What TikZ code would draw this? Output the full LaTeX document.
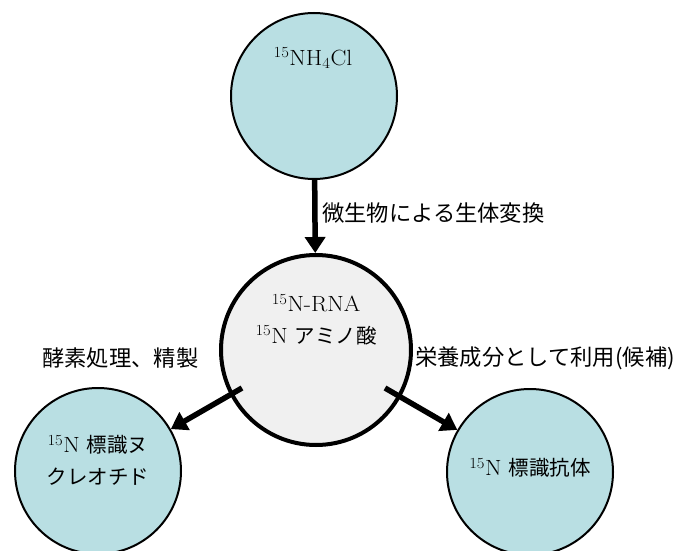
\documentclass[tikz,border=0pt]{standalone}
\usepackage{fontspec}
\newfontfamily\jp{Noto Sans CJK JP}
\newfontfamily\lat{Latin Modern Roman}[FakeStretch=1.08]
\usetikzlibrary{arrows.meta}
\definecolor{cblue}{HTML}{B9DFE3}
\definecolor{cgray}{HTML}{F0F0F0}
\begin{document}
\begin{tikzpicture}[x=1pt,y=-1pt,
  bluecirc/.style={circle, draw=black, line width=2pt, fill=cblue, minimum size=166pt, inner sep=0pt},
  midcirc/.style={circle, draw=black, line width=4pt, fill=cgray, minimum size=190pt, inner sep=0pt},
  arr/.style={line width=5.5pt, -{Triangle[length=16pt,width=20pt]}},
  txt/.style={font=\fontsize{22}{26}\selectfont\lat, inner sep=0pt},
  cj/.style={font=\fontsize{20.5}{24}\selectfont\jp, inner sep=0pt},
  lbl/.style={font=\fontsize{22.3}{26}\selectfont\jp, anchor=west, inner sep=0pt}]
\useasboundingbox (0,0) rectangle (683,551);
\node[bluecirc] (top) at (314,96) {};
\node[midcirc] (mid) at (316,350) {};
\node[bluecirc] (bl) at (98,471) {};
\node[bluecirc] (br) at (530,472) {};
\node[txt] (t1) at (313,58) {\textsuperscript{15}NH\textsubscript{4}Cl};
\node[txt] (t2) at (316,303) {\textsuperscript{15}N-RNA};
\node[txt] (t3) at (316,335) {\textsuperscript{15}N {\fontsize{20.5}{24}\selectfont\jp アミノ酸}};
\node[txt] (t4) at (98,445) {\textsuperscript{15}N {\fontsize{20.5}{24}\selectfont\jp 標識ヌ}};
\node[cj] (t5) at (98,477) {クレオチド};
\node[txt] (t6) at (530,468) {\textsuperscript{15}N {\fontsize{20.5}{24}\selectfont\jp 標識抗体}};
\coordinate (s1) at (242,388);
\coordinate (s2) at (385,388);
\draw[arr] (top) -- (mid);
\draw[arr] (s1) -- (bl);
\draw[arr] (s2) -- (br);
\node[lbl] (l1) at (322,213) {微生物による生体変換};
\node[lbl] (l2) at (42,358) {酵素処理、精製};
\node[lbl] (l3) at (415,358) {栄養成分として利用(候補)};
\end{tikzpicture}
\end{document}
